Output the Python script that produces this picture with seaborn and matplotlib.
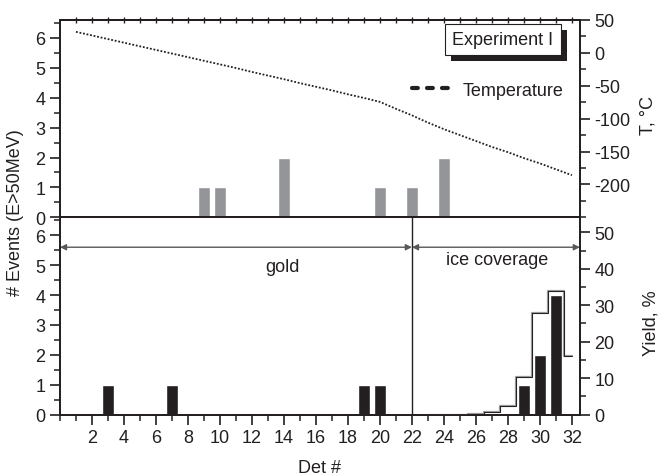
import numpy as np
import pandas as pd
import matplotlib
matplotlib.use("Agg")
import matplotlib.pyplot as plt
import matplotlib.patheffects as pe
from matplotlib.lines import Line2D
from matplotlib.ticker import MultipleLocator
import seaborn as sns

# top panel (Experiment I): events per detector + temperature
top_det = [9, 10, 14, 20, 22, 24]
top_events = [1, 1, 2, 1, 1, 2]

temp_det = list(range(1, 33))
temperature = [32, 26.5, 21, 15.5, 10, 4.5, -1, -6.5, -12, -17.5, -23, -29,
               -34.5, -40, -46, -51.5, -57, -63, -68.5, -74.5, -85, -95,
               -106, -116, -125, -134, -143, -151, -160, -168, -177, -186]

# bottom panel: events per detector + yield
bot_det = [3, 7, 19, 20, 29, 30, 31]
bot_events = [1, 1, 1, 1, 1, 2, 4]

yield_det = [23, 24, 25, 26, 27, 28, 29, 30, 31, 32]
yield_pct = [0, 0, 0, 0.3, 0.8, 2.5, 10.2, 27.9, 33.8, 16.1]

x_ticks = list(range(2, 33, 2))

ink = "#231f20"
grey = "#939598"

sns.set_style("ticks")
plt.rcParams['font.family'] = ['Liberation Sans', 'DejaVu Sans']
plt.rcParams['font.size'] = 13
plt.rcParams['axes.unicode_minus'] = False
plt.rcParams['axes.linewidth'] = 1.3
plt.rcParams['text.color'] = ink
plt.rcParams['axes.labelcolor'] = ink
plt.rcParams['xtick.color'] = ink
plt.rcParams['ytick.color'] = ink
plt.rcParams['axes.edgecolor'] = ink

fig = plt.figure(figsize=(6.59, 4.77), dpi=100)
ax1 = fig.add_axes([0.091, 0.5423, 0.789, 0.4137])
ax2 = fig.add_axes([0.091, 0.1285, 0.789, 0.4138])

# --- top panel
top_df = pd.DataFrame({"det": top_det, "events": top_events})
sns.barplot(data=top_df, x="det", y="events", native_scale=True, width=0.8,
            color=grey, saturation=1, ax=ax1)
ax1.set_xlim(0, 32.5)
ax1.set_ylim(0, 6.6)
ax1.set_xlabel("")
ax1.set_ylabel("")
ax1.set_xticks(x_ticks)
ax1.set_xticklabels([])
ax1.xaxis.set_minor_locator(MultipleLocator(1))
ax1.yaxis.set_major_locator(MultipleLocator(1))
ax1.yaxis.set_minor_locator(MultipleLocator(0.5))

ax1t = ax1.secondary_xaxis("top")
ax1t.set_xticks(range(1, 33))
ax1t.set_xticklabels([])
ax1t.tick_params(direction="inout", length=4, width=1)

ax1r = ax1.twinx()
temp_df = pd.DataFrame({"det": temp_det, "T": temperature})
sns.lineplot(data=temp_df, x="det", y="T", ax=ax1r, color=ink, lw=1.3,
             linestyle=(0, (1, 1)))
ax1r.set_ylim(-250, 50)
ax1r.set_yticks(range(-200, 51, 50))
ax1r.yaxis.set_minor_locator(MultipleLocator(25))
ax1r.set_ylabel("T, °C")
ax1r.yaxis.set_label_coords(1.115, 0.52)

leg = ax1r.legend(handles=[Line2D([], [], color=ink, lw=3, dashes=(1.4, 2.2),
                                  dash_capstyle="round")],
                  labels=["Temperature"], loc="center right",
                  bbox_to_anchor=(1.0, 0.645), frameon=False,
                  handlelength=2.2, handletextpad=0.6, fontsize=13)

t = ax1r.text(0.852, 0.901, "Experiment I", transform=ax1r.transAxes,
              ha="center", va="center", fontsize=13,
              bbox=dict(boxstyle="square,pad=0.4", fc="white", ec=ink, lw=0.8))
t.get_bbox_patch().set_path_effects(
    [pe.withSimplePatchShadow(offset=(4.5, -4.5), shadow_rgbFace=ink, alpha=1)])

# --- bottom panel
bot_df = pd.DataFrame({"det": bot_det, "events": bot_events})
sns.barplot(data=bot_df, x="det", y="events", native_scale=True, width=0.8,
            color=ink, saturation=1, ax=ax2)
ax2.set_xlim(0, 32.5)
ax2.set_ylim(0, 6.6)
ax2.set_xticks(x_ticks)
ax2.set_xticklabels([str(v) for v in x_ticks])
ax2.xaxis.set_minor_locator(MultipleLocator(1))
ax2.yaxis.set_major_locator(MultipleLocator(1))
ax2.yaxis.set_minor_locator(MultipleLocator(0.5))
ax2.set_ylabel("")
ax2.set_xlabel("Det #")
ax2.xaxis.set_label_coords(0.5, -0.225)

ax2.axvline(22, color=ink, lw=1)
arrow_kw = dict(arrowstyle="<|-|>", color="0.35", lw=1, mutation_scale=9,
                shrinkA=0, shrinkB=0)
ax2.annotate("", xy=(0, 5.6), xytext=(22, 5.6), arrowprops=arrow_kw)
ax2.annotate("", xy=(22, 5.6), xytext=(32.5, 5.6), arrowprops=arrow_kw)
ax2.text(13.9, 4.94, "gold", ha="center", va="center", fontsize=13)
ax2.text(27.3, 5.18, "ice coverage", ha="center", va="center", fontsize=13)

ax2r = ax2.twinx()
yield_df = pd.DataFrame({"det": yield_det, "y": yield_pct})
sns.lineplot(data=yield_df, x="det", y="y", ax=ax2r, color="0.6", lw=1.6,
             drawstyle="steps-mid")
sns.lineplot(data=yield_df, x="det", y="y", ax=ax2r, color=ink, lw=0.7,
             drawstyle="steps-mid")
ax2r.set_ylim(0, 54.1)
ax2r.set_yticks(range(0, 51, 10))
ax2r.yaxis.set_minor_locator(MultipleLocator(5))
ax2r.set_ylabel("Yield, %")
ax2r.yaxis.set_label_coords(1.12, 0.47)

for a in (ax1, ax2, ax1r, ax2r):
    a.tick_params(which="major", direction="out", length=7, width=1.2, labelsize=13)
    a.tick_params(which="minor", direction="out", length=4, width=1.1)
    for s in a.spines.values():
        s.set_visible(True)

fig.text(0.024, 0.5545, "# Events (E>50MeV)", rotation=90, ha="center",
         va="center", fontsize=13)

fig.savefig("out.png", dpi=100)
